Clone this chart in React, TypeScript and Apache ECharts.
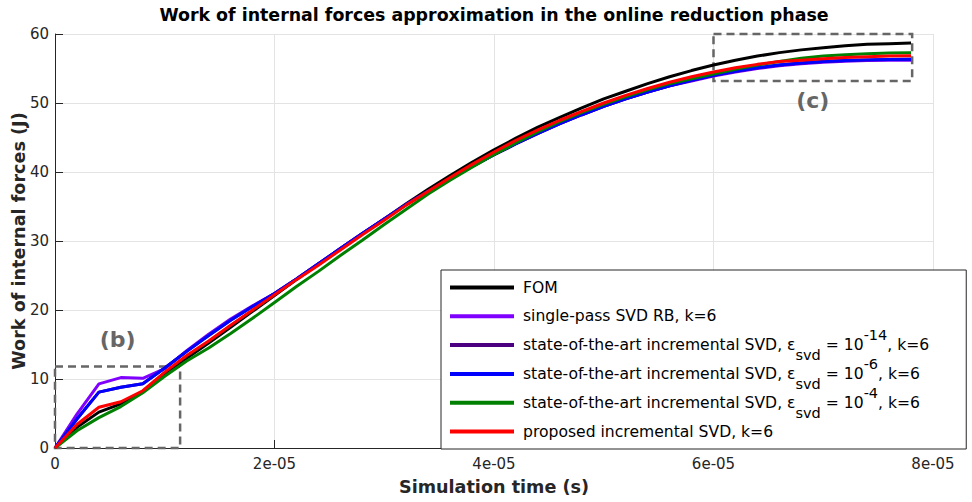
import { useEffect, useRef } from 'react';
import * as echarts from 'echarts';

const FONT = "'DejaVu Sans', Verdana, sans-serif";

// sample times in microseconds
const timeUs = [0, 2, 4, 6, 8, 10, 12, 14, 16, 18, 20, 22, 24, 26, 28, 30, 32, 34, 36, 38,
  40, 42, 44, 46, 48, 50, 52, 54, 56, 58, 60, 62, 64, 66, 68, 70, 72, 74, 76, 78];

const fom = [0, 3.0, 5.2, 6.4, 8.2, 10.8, 13.0, 15.2, 17.5, 19.8,
  22.1, 24.4, 26.6, 28.8, 31.0, 33.2, 35.4, 37.5, 39.5, 41.4,
  43.2, 44.9, 46.5, 47.9, 49.3, 50.6, 51.7, 52.8, 53.8, 54.7,
  55.5, 56.2, 56.8, 57.3, 57.7, 58.0, 58.3, 58.5, 58.6, 58.7];

const singlePass = [0, 4.9, 9.3, 10.2, 10.1, 11.5, 14.1, 16.5, 18.7, 20.6,
  22.4, 24.5, 26.7, 28.9, 31.1, 33.2, 35.3, 37.2, 39.0, 40.8,
  42.5, 44.1, 45.6, 47.0, 48.3, 49.5, 50.6, 51.6, 52.5, 53.2,
  53.9, 54.5, 55.0, 55.4, 55.7, 55.9, 56.05, 56.15, 56.2, 56.2];

const incr14 = [0, 4.2, 8.1, 8.8, 9.3, 11.6, 14.0, 16.3, 18.5, 20.5,
  22.4, 24.5, 26.7, 28.9, 31.1, 33.2, 35.3, 37.2, 39.0, 40.8,
  42.5, 44.1, 45.6, 47.0, 48.3, 49.5, 50.6, 51.6, 52.5, 53.3,
  54.0, 54.6, 55.1, 55.5, 55.8, 56.0, 56.15, 56.25, 56.3, 56.35];

const incr6 = [0, 4.2, 8.1, 8.8, 9.3, 11.6, 14.0, 16.3, 18.5, 20.5,
  22.4, 24.5, 26.7, 28.9, 31.1, 33.2, 35.3, 37.2, 39.0, 40.8,
  42.5, 44.1, 45.6, 47.0, 48.3, 49.5, 50.6, 51.6, 52.5, 53.3,
  54.0, 54.6, 55.1, 55.5, 55.8, 56.0, 56.15, 56.25, 56.3, 56.35];

const incr4 = [0, 2.5, 4.4, 6.0, 8.0, 10.4, 12.6, 14.5, 16.6, 18.8,
  21.1, 23.4, 25.6, 27.9, 30.1, 32.4, 34.6, 36.8, 38.8, 40.7,
  42.5, 44.2, 45.8, 47.3, 48.6, 49.8, 50.9, 51.9, 52.8, 53.5,
  54.2, 54.9, 55.5, 56.0, 56.5, 56.8, 57.0, 57.15, 57.25, 57.3];

const proposed = [0, 3.4, 5.9, 6.7, 8.3, 11.0, 13.4, 15.5, 17.8, 20.0,
  22.2, 24.4, 26.5, 28.7, 30.9, 33.0, 35.2, 37.2, 39.2, 41.1,
  42.9, 44.6, 46.1, 47.5, 48.8, 50.0, 51.1, 52.1, 53.0, 53.8,
  54.5, 55.1, 55.6, 56.0, 56.2, 56.4, 56.6, 56.7, 56.8, 56.85];

const seriesNames = [
  'FOM',
  'single-pass SVD RB, k=6',
  'state-of-the-art incremental SVD, ε_svd = 10^-14, k=6',
  'state-of-the-art incremental SVD, ε_svd = 10^-6, k=6',
  'state-of-the-art incremental SVD, ε_svd = 10^-4, k=6',
  'proposed incremental SVD, k=6',
];
const seriesValues = [fom, singlePass, incr14, incr6, incr4, proposed];
const seriesColors = ['#000000', '#8000ff', '#4b0082', '#0000ff', '#008000', '#ff0000'];

const legendRich: Record<string, string> = {
  [seriesNames[0]]: '{n|FOM}',
  [seriesNames[1]]: '{n|single-pass SVD RB, k=6}',
  [seriesNames[2]]: '{n|state-of-the-art incremental SVD, ε}{sub|svd}{n| = 10}{sup|-14}{n|, k=6}',
  [seriesNames[3]]: '{n|state-of-the-art incremental SVD, ε}{sub|svd}{n| = 10}{sup|-6}{n|, k=6}',
  [seriesNames[4]]: '{n|state-of-the-art incremental SVD, ε}{sub|svd}{n| = 10}{sup|-4}{n|, k=6}',
  [seriesNames[5]]: '{n|proposed incremental SVD, k=6}',
};

const xTickLabels = ['0', '2e-05', '4e-05', '6e-05', '8e-05'];
const xStep = 2e-5;

// zoom boxes in data coordinates
const boxB = { x0: 0, x1: 1.14e-5, y0: 0, y1: 11.8, label: '(b)' };
const boxC = { x0: 6e-5, x1: 7.81e-5, y0: 53.2, y1: 60, label: '(c)' };

const AXIS_COLOR = '#262626';

export default function App() {
  const ref = useRef<HTMLDivElement>(null);
  useEffect(() => {
    const chart = echarts.init(ref.current!, null, { renderer: 'svg' });
    const lineSeries = seriesNames.map((name, k) => ({
      type: 'line',
      name,
      data: timeUs.map((t, i) => [t * 1e-6, seriesValues[k][i]]),
      showSymbol: false,
      symbol: 'none',
      lineStyle: { width: 3, color: seriesColors[k] },
      itemStyle: { color: seriesColors[k] },
      silent: true,
    }));
    const labelStyle = { show: true, fontFamily: FONT, fontSize: 22, fontWeight: 'bold', color: '#666666' };
    const option: any = {
      animation: false,
      backgroundColor: '#ffffff',
      title: {
        text: 'Work of internal forces approximation in the online reduction phase',
        left: 494,
        top: 0,
        textAlign: 'center',
        padding: [6, 0, 5, 0],
        textStyle: { fontFamily: FONT, fontSize: 17.4, fontWeight: 'bold', color: '#000' },
      },
      grid: { left: 55, right: 39, top: 34, bottom: 54, containLabel: false, outerBoundsMode: 'none' },
      xAxis: {
        type: 'value',
        min: 0,
        max: 8e-5,
        interval: xStep,
        name: 'Simulation time (s)',
        nameLocation: 'middle',
        nameGap: 30,
        nameMoveOverlap: false,
        nameTextStyle: { fontFamily: FONT, fontSize: 17.6, fontWeight: 'bold', color: AXIS_COLOR },
        axisLine: { show: true, onZero: false, lineStyle: { color: AXIS_COLOR, width: 1 } },
        axisTick: { show: true, inside: true, length: 8, lineStyle: { color: AXIS_COLOR } },
        axisLabel: {
          margin: 8,
          fontFamily: FONT,
          fontSize: 15,
          color: AXIS_COLOR,
          formatter: (v: number) => xTickLabels[Math.round(v / xStep)] ?? '',
        },
        splitLine: { show: true, lineStyle: { color: '#e3e3e3', width: 1 } },
      },
      yAxis: {
        type: 'value',
        min: 0,
        max: 60,
        interval: 10,
        name: 'Work of internal forces (J)',
        nameLocation: 'middle',
        nameGap: 27,
        nameMoveOverlap: false,
        nameTextStyle: { fontFamily: FONT, fontSize: 17.6, fontWeight: 'bold', color: AXIS_COLOR },
        axisLine: { show: true, onZero: false, lineStyle: { color: AXIS_COLOR, width: 1 } },
        axisTick: { show: true, inside: true, length: 8, lineStyle: { color: AXIS_COLOR } },
        axisLabel: { margin: 6, fontFamily: FONT, fontSize: 15, color: AXIS_COLOR },
        splitLine: { show: true, lineStyle: { color: '#e3e3e3', width: 1 } },
      },
      legend: {
        orient: 'vertical',
        left: 441,
        top: 270,
        data: seriesNames,
        icon: 'rect',
        itemWidth: 64,
        itemHeight: 4,
        itemGap: -6.2,
        padding: [0, 37, 0, 9],
        backgroundColor: '#ffffff',
        borderColor: AXIS_COLOR,
        borderWidth: 1,
        borderRadius: 0,
        selectedMode: false,
        formatter: (name: string) => legendRich[name] ?? name,
        textStyle: {
          fontFamily: FONT,
          fontSize: 15.6,
          color: '#000',
          lineHeight: 35,
          padding: [0, 0, 0, 4],
          rich: {
            n: { fontFamily: FONT, fontSize: 15.6, color: '#000', verticalAlign: 'middle' },
            sub: { fontFamily: FONT, fontSize: 14.5, color: '#000', verticalAlign: 'bottom' },
            sup: { fontFamily: FONT, fontSize: 14.5, color: '#000', verticalAlign: 'top' },
          },
        },
      },
      series: [
        ...lineSeries,
        {
          type: 'line',
          name: 'zoom boxes',
          data: [],
          silent: true,
          markArea: {
            silent: true,
            itemStyle: {
              color: 'rgba(0,0,0,0)',
              borderColor: '#666666',
              borderWidth: 2.5,
              borderType: [8, 5],
            },
            label: labelStyle,
            data: [
              [
                { name: boxB.label, xAxis: boxB.x0, yAxis: boxB.y1, label: { ...labelStyle, position: 'top', distance: 15 } },
                { xAxis: boxB.x1, yAxis: boxB.y0 },
              ],
              [
                { name: boxC.label, xAxis: boxC.x0, yAxis: boxC.y1, label: { ...labelStyle, position: 'bottom', distance: 7 } },
                { xAxis: boxC.x1, yAxis: boxC.y0 },
              ],
            ],
          },
        },
      ],
    };
    chart.setOption(option);
    return () => chart.dispose();
  }, []);
  return (
    <div
      ref={ref}
      style={{ position: 'fixed', left: 0, top: 0, width: 972, height: 502, background: '#fff' }}
    />
  );
}
